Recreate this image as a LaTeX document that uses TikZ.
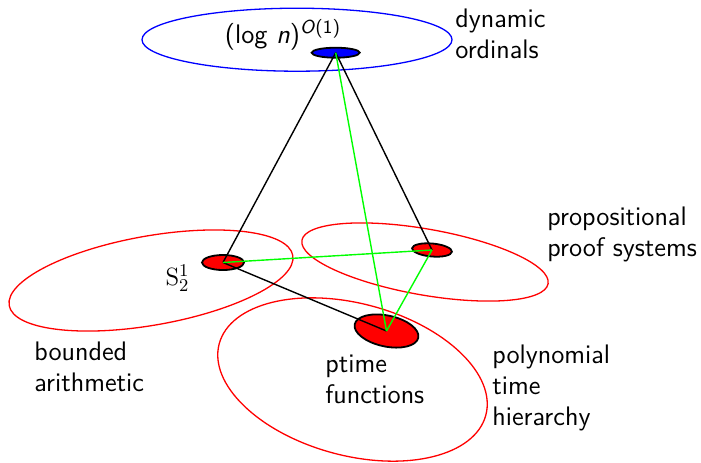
\documentclass[tikz,border=0pt]{standalone}
\usepackage{fontspec}
\usetikzlibrary{shapes.geometric}
\definecolor{TheoryInk}{HTML}{000000}
\definecolor{TheoryRed}{HTML}{FF0000}
\definecolor{TheoryGreen}{HTML}{00FF00}
\definecolor{TheoryBlue}{HTML}{0000FF}
\tikzset{
  theory text/.style={font=\sffamily\fontsize{13.4}{15.5}\selectfont, text=TheoryInk, inner sep=0pt, align=left},
  theory math/.style={font=\fontsize{12.5}{15}\selectfont, text=TheoryInk, inner sep=0pt},
  theory region/.style={ellipse, draw=TheoryRed, line width=.65pt, inner sep=0pt},
  theory orbit/.style={theory region, draw=TheoryBlue},
  theory core/.style={ellipse, draw=TheoryInk, fill=TheoryRed, line width=.9pt, inner sep=0pt},
  theory top core/.style={theory core, fill=TheoryBlue},
  theory link/.style={draw=TheoryInk, line width=.7pt},
  theory bridge/.style={draw=TheoryGreen, line width=.7pt},
}

\begin{document}
\begin{tikzpicture}[x=.5pt,y=.5pt]
  \useasboundingbox (0,-462) rectangle (701,0);

  \node[theory orbit, minimum width=155pt, minimum height=31.5pt] (ordinals) at (297,-39.7) {};
  \node[theory region, rotate=10, minimum width=144pt, minimum height=44.6pt] (bounded) at (151,-280.5) {};
  \node[theory region, rotate=-10, minimum width=125pt, minimum height=33pt] (proofs) at (425,-262) {};
  \node[theory region, rotate=-15, minimum width=138pt, minimum height=76pt] (hierarchy) at (352.5,-379.5) {};

  \node[theory top core, minimum width=24pt, minimum height=5pt] (ordcore) at (335.7,-52.7) {};
  \node[theory core, minimum width=21pt, minimum height=7.5pt] (sone) at (223,-262.5) {};
  \node[theory core, rotate=-5, minimum width=20pt, minimum height=6.5pt] (proofcore) at (432,-250) {};
  \node[theory core, rotate=-12, minimum width=32.5pt, minimum height=15.5pt] (ptimecore) at (386.5,-331) {};

  \draw[theory link] (ordcore.center) -- (sone.center);
  \draw[theory link] (ordcore.center) -- (proofcore.center);
  \draw[theory link] (sone.center) -- (ptimecore.center);
  \draw[theory bridge] (ordcore.center) -- (ptimecore.center);
  \draw[theory bridge] (sone.center) -- (proofcore.center);
  \draw[theory bridge] (proofcore.center) -- (ptimecore.center);

  \node[theory text, anchor=center] (ordmark) at (283,-35)
    {(log \textsl{n})\textsuperscript{\textsl{O}(1)}};
  \node[theory math, anchor=center] (sonemark) at (177.5,-278) {$\mathrm{S}^1_2$};
  \node[theory text, anchor=north west] (ordlabel) at (455,-8.7) {dynamic\\ordinals};
  \node[theory text, anchor=north west] (prooflabel) at (547,-206.4) {propositional\\proof systems};
  \node[theory text, anchor=north west] (boundedlabel) at (34,-341.4) {bounded\\arithmetic};
  \node[theory text, anchor=north west] (ptimelabel) at (325,-354.7) {ptime\\functions};
  \node[theory text, anchor=north west] (hierlabel) at (492,-344.7) {polynomial\\time\\hierarchy};
\end{tikzpicture}
\end{document}
